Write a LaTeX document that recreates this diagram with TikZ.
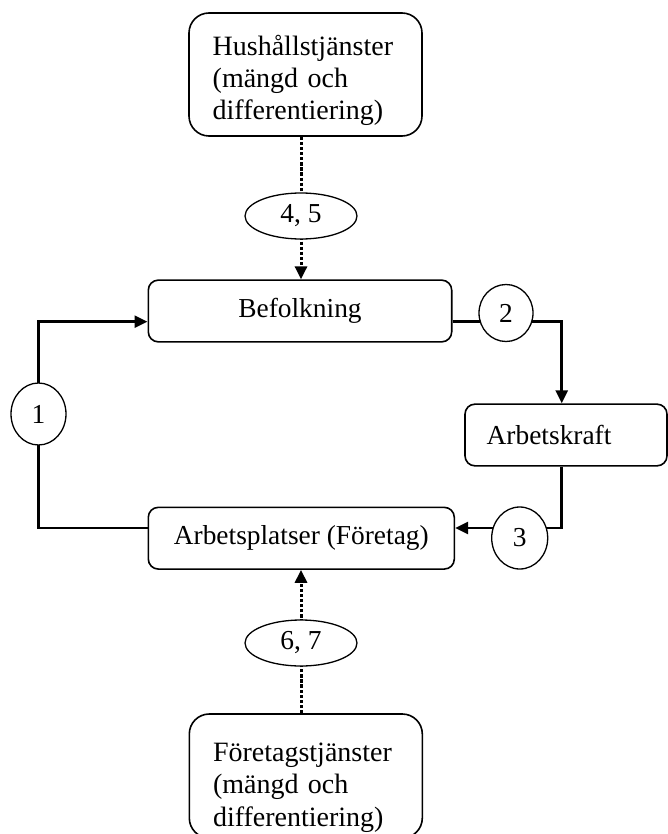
\documentclass[tikz,border=0pt]{standalone}
\usepackage{fontspec}
\setmainfont{Liberation Serif}
\usetikzlibrary{arrows.meta,shapes.geometric,backgrounds}
\begin{document}
\begin{tikzpicture}[x=0.5pt,y=-0.5pt,
  font=\fontsize{13.7}{16.2}\selectfont,
  bigbox/.style={draw,line width=0.8pt,rounded corners=10pt,fill=white,
    font=\fontsize{14}{16.2}\selectfont,
    text width=92.8pt,inner xsep=11.85pt,inner ysep=0pt,align=left},
  midbox/.style={draw,line width=0.8pt,rounded corners=5pt,fill=white,
    minimum height=30.85pt,inner sep=0pt},
  ell/.style={ellipse,draw,line width=0.65pt,fill=white,inner sep=0pt},
  conn/.style={line width=1.35pt},
  dotconn/.style={line width=1.5pt,dash pattern=on 1.65pt off 0.9pt},
  tip/.style={-{Triangle[length=6.5pt,width=6pt]}}
]
\useasboundingbox (0,0) rectangle (668,834);

% boxes
\node[bigbox,minimum height=61.5pt] (hus) at (305.5,74.5)
  {\rule{0pt}{16pt}Hushållstjänster\\(mängd och\\differentiering)};
\node[midbox,minimum width=151.7pt] (befolk) at (300,311) {Befolkning};
\node[midbox,minimum width=101pt,text width=79.3pt,inner xsep=10.85pt,align=left]
  (ak) at (566,435) {Arbetskraft};
\node[midbox,minimum width=153pt] (arbpl) at (301.3,538.2) {Arbetsplatser (Företag)};
\node[bigbox,minimum height=62pt] (ftg) at (305.8,776)
  {\rule{0pt}{21pt}Företagstjänster\\(mängd och\\differentiering)};

% ellipses / circles
\node[ell,minimum width=56pt,minimum height=23pt] (e45) at (301,216) {4, 5};
\node[ell,minimum width=56pt,minimum height=23pt] (e67) at (301,643) {6, 7};
\node[ell,minimum width=27.5pt,minimum height=31pt] (c1) at (38.5,414) {1};
\node[ell,minimum width=27pt,minimum height=28.5pt] (c2) at (506,313) {2};
\node[ell,minimum width=28pt,minimum height=31pt] (c3) at (519.7,538) {3};

% routing points
\coordinate (la) at (38.5,528);
\coordinate (lb) at (38.5,321.7);
\coordinate (r1) at (561.7,321.7);
\coordinate (r2) at (561.7,528);

\begin{scope}[on background layer]
  % dotted links
  \draw[dotconn] (hus.south -| e45) -- (e45.center);
  \draw[dotconn,tip] (e45.center) -- (befolk.north -| e45);
  \draw[dotconn] (ftg.north -| e67) -- (e67.center);
  \draw[dotconn,tip] (e67.center) -- (arbpl.south -| e67);
  % loop
  \draw[conn,tip] (arbpl.west |- la) -- (la) -- (c1.center) -- (lb) -- (befolk.west |- lb);
  \draw[conn,tip] (befolk.east |- lb) -- (c2 |- lb) -- (r1) -- (ak.north -| r1);
  \draw[conn,tip] (ak.south -| r1) -- (r2) -- (c3 |- r2) -- (arbpl.east |- r2);
\end{scope}
\end{tikzpicture}
\end{document}
